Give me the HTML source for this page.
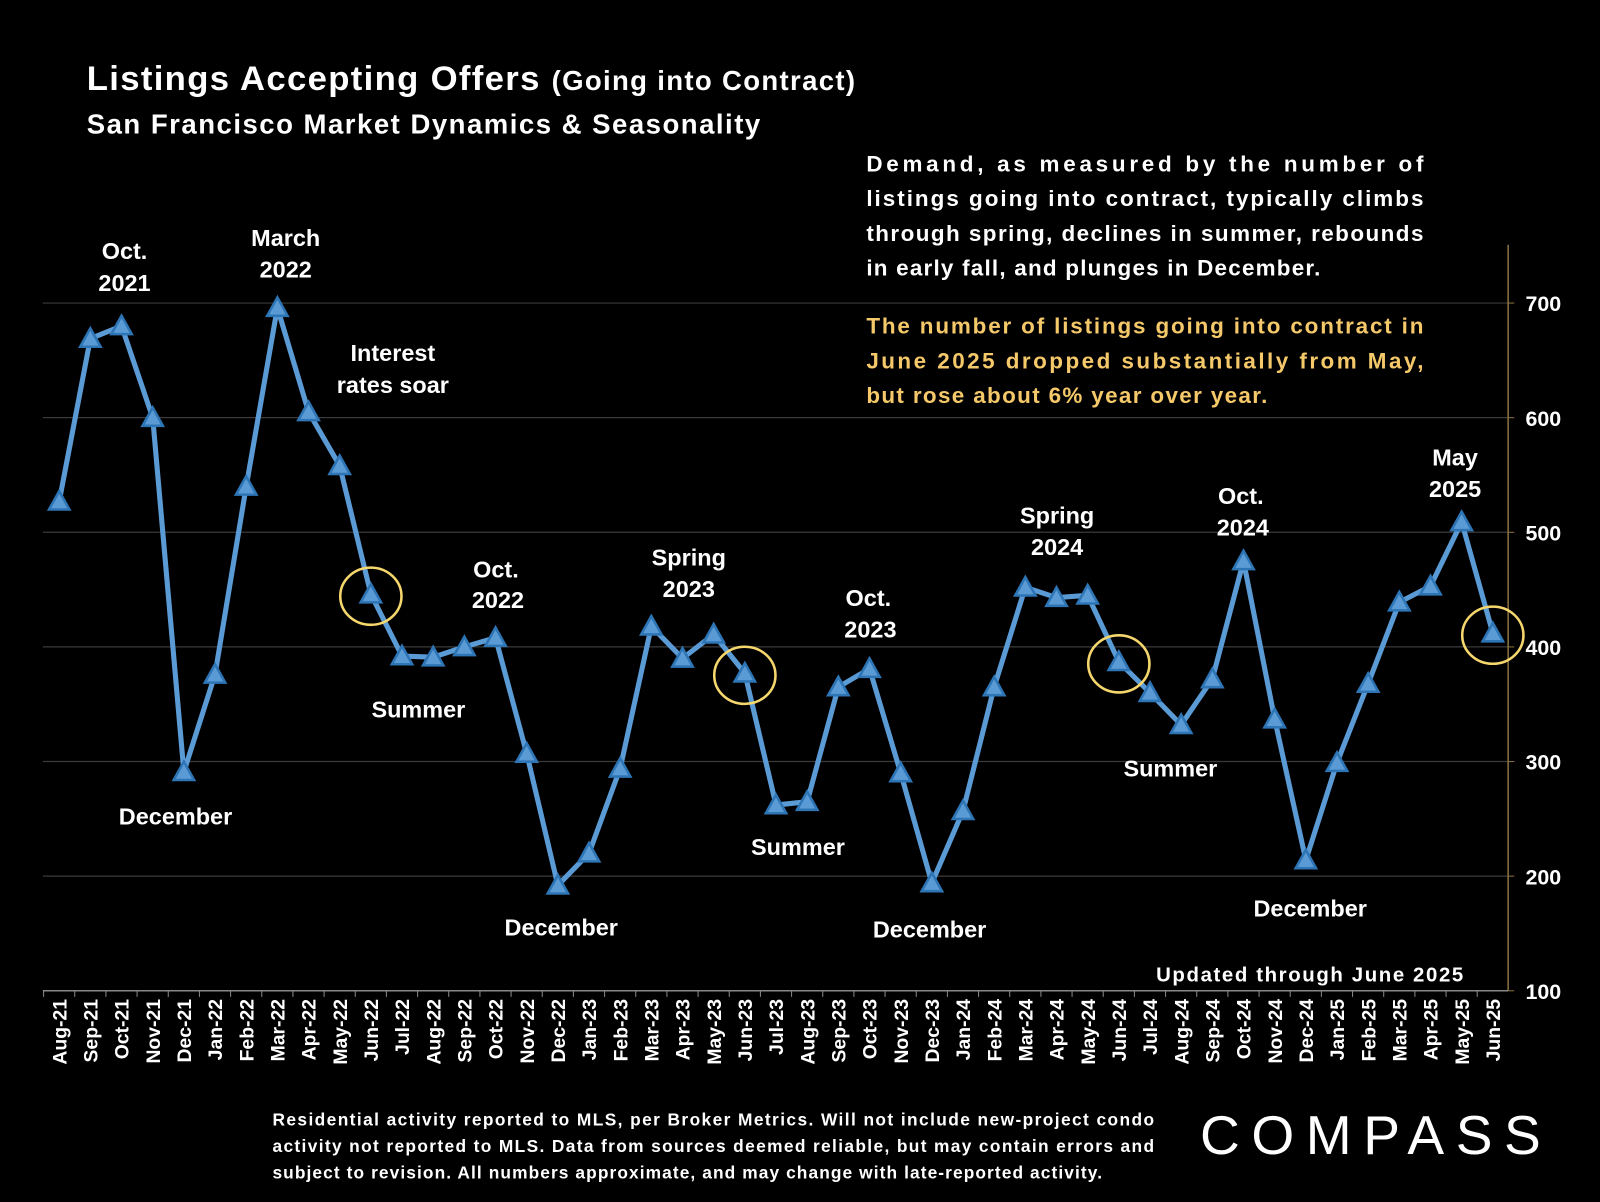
<!DOCTYPE html>
<html><head><meta charset="utf-8"><style>
html,body{margin:0;padding:0;background:#000;}
svg{display:block;font-family:"Liberation Sans",sans-serif;}
</style></head><body>
<svg id="chart" width="1600" height="1202" viewBox="0 0 1568 1178" xmlns="http://www.w3.org/2000/svg">
<rect width="1568" height="1178" fill="#000"/>
<text x="85" y="88" fill="#fff" font-size="34" font-weight="bold" textLength="753" lengthAdjust="spacing">Listings Accepting Offers <tspan font-size="27">(Going into Contract)</tspan></text>
<text x="85" y="131" fill="#fff" font-size="27" font-weight="bold" textLength="660" lengthAdjust="spacing">San Francisco Market Dynamics &amp; Seasonality</text>
<g fill="#fff" font-size="22" font-weight="bold">
<text x="849" y="168" textLength="546" lengthAdjust="spacing">Demand, as measured by the number of</text>
<text x="849" y="202" textLength="546" lengthAdjust="spacing">listings going into contract, typically climbs</text>
<text x="849" y="236" textLength="546" lengthAdjust="spacing">through spring, declines in summer, rebounds</text>
<text x="849" y="270" textLength="445" lengthAdjust="spacing">in early fall, and plunges in December.</text>
</g>
<g fill="#f5c96a" font-size="22" font-weight="bold">
<text x="849" y="327" textLength="546" lengthAdjust="spacing">The number of listings going into contract in</text>
<text x="849" y="361" textLength="546" lengthAdjust="spacing">June 2025 dropped substantially from May,</text>
<text x="849" y="395" textLength="393" lengthAdjust="spacing">but rose about 6% year over year.</text>
</g>
<g id="grid"></g><g id="axes"></g><g id="series"></g><g id="ann"></g>
<text x="1133" y="962" fill="#fff" font-size="20" font-weight="bold" textLength="301" lengthAdjust="spacing">Updated through June 2025</text>
<g fill="#fff" font-size="17" font-weight="bold">
<text x="267" y="1103" textLength="864" lengthAdjust="spacing">Residential activity reported to MLS, per Broker Metrics. Will not include new-project condo</text>
<text x="267" y="1129" textLength="864" lengthAdjust="spacing">activity not reported to MLS. Data from sources deemed reliable, but may contain errors and</text>
<text x="267" y="1155" textLength="813" lengthAdjust="spacing">subject to revision. All numbers approximate, and may change with late-reported activity.</text>
</g>
<text x="1176" y="1131" fill="#fff" font-size="54" textLength="334" lengthAdjust="spacing">COMPASS</text>
</svg>
<script>
const months=["Aug-21","Sep-21","Oct-21","Nov-21","Dec-21","Jan-22","Feb-22","Mar-22","Apr-22","May-22","Jun-22","Jul-22","Aug-22","Sep-22","Oct-22","Nov-22","Dec-22","Jan-23","Feb-23","Mar-23","Apr-23","May-23","Jun-23","Jul-23","Aug-23","Sep-23","Oct-23","Nov-23","Dec-23","Jan-24","Feb-24","Mar-24","Apr-24","May-24","Jun-24","Jul-24","Aug-24","Sep-24","Oct-24","Nov-24","Dec-24","Jan-25","Feb-25","Mar-25","Apr-25","May-25","Jun-25"];
const listings=[527,669,680,600,291,376,540,696,605,558,446,392,391,400,408,307,192,220,294,418,390,411,377,262,265,365,381,290,194,257,365,452,443,445,387,360,332,372,475,337,214,299,368,439,453,509,412];
const yTicks=[100,200,300,400,500,600,700];
const circled=["Jun-22","Jun-23","Jun-24","Jun-25"];
const notes=[["Oct.",122,254],["2021",122,285],["March",280,241],["2022",280,272],["Interest",385,354],["rates soar",385,385],["December",172,808],["Summer",410,703],["Oct.",486,566],["2022",488,596],["December",550,917],["Spring",675,554],["2023",675,585],["Summer",782,838],["Oct.",851,594],["2023",853,625],["December",911,919],["Spring",1036,513],["2024",1036,544],["Summer",1147,761],["Oct.",1216,494],["2024",1218,525],["December",1284,898],["May",1426,456],["2025",1426,487]];
const NS="http://www.w3.org/2000/svg";
const x0=58,x1=1463,yb=971,yt=297;
const X=i=>x0+(x1-x0)*i/(months.length-1);
const Y=v=>yb-(v-100)*(yb-yt)/600;
function mk(t,a,p){const e=document.createElementNS(NS,t);for(const k in a)e.setAttribute(k,a[k]);p.appendChild(e);return e;}
const grid=document.getElementById('grid'),axes=document.getElementById('axes'),ser=document.getElementById('series'),ann=document.getElementById('ann');
yTicks.forEach(v=>{
 if(v>100){const l=mk('line',{x1:42,x2:1478,y1:Y(v),y2:Y(v),stroke:'#3a3a3a','stroke-width':1.2},grid);
 
 }
 const t=mk('text',{x:1495,y:Y(v)+8,fill:'#fff','font-size':21,'font-weight':'bold'},axes);t.textContent=v;
 
 
 mk('line',{x1:1478,x2:1484,y1:Y(v),y2:Y(v),stroke:'#8a7440'},axes);
});
const ra=mk('line',{x1:1478,x2:1478,y1:240,y2:yb,stroke:'#8a7440','stroke-width':1.5},axes);


const xa=mk('line',{x1:42,x2:1478,y1:yb,y2:yb,stroke:'#888','stroke-width':1.5},axes);


months.forEach((m,i)=>{
 mk('line',{x1:X(i)-15.3,x2:X(i)-15.3,y1:yb,y2:yb+6,stroke:'#888'},axes);
 const t=mk('text',{x:0,y:0,fill:'#fff','font-size':19,'font-weight':'bold','text-anchor':'end',transform:`translate(${X(i)+7},${yb+8}) rotate(-90)`},axes);
 t.textContent=m;
 
 
});
const line=mk('polyline',{points:listings.map((v,i)=>X(i)+','+Y(v)).join(' '),fill:'none',stroke:'#5b9bd5','stroke-width':5,'stroke-linejoin':'round'},ser);


listings.forEach((v,i)=>{
 const x=X(i),y=Y(v);
 const p=mk('polygon',{points:`${x},${y-10} ${x-10},${y+8} ${x+10},${y+8}`,fill:'#5b9bd5',stroke:'#2e75b6','stroke-width':2.5},ser);
 
 
 if(circled.includes(months[i])){
  const c=mk('ellipse',{cx:x,cy:y+2,rx:30,ry:28,fill:'none',stroke:'#f5d76e','stroke-width':2.5},ann);
  
  
 }
});
notes.forEach(n=>{
 const t=mk('text',{x:n[1],y:n[2],fill:'#fff','font-size':23,'font-weight':'bold','text-anchor':'middle'},ann);
 t.textContent=n[0];
 
 
});
</script>
</body></html>
